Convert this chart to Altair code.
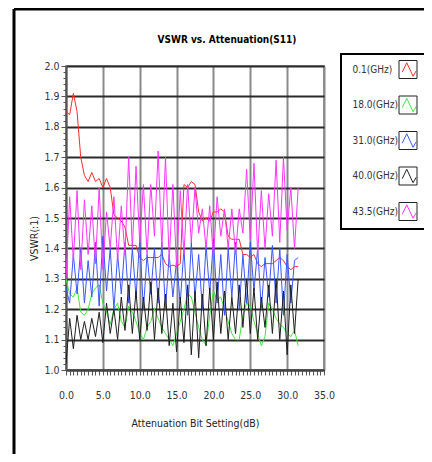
import altair as alt
import pandas as pd

atten = [0.0, 0.5, 1.0, 1.5, 2.0, 2.5, 3.0, 3.5, 4.0, 4.5, 5.0, 5.5, 6.0, 6.5, 7.0, 7.5,
         8.0, 8.5, 9.0, 9.5, 10.0, 10.5, 11.0, 11.5, 12.0, 12.5, 13.0, 13.5, 14.0, 14.5, 15.0, 15.5,
         16.0, 16.5, 17.0, 17.5, 18.0, 18.5, 19.0, 19.5, 20.0, 20.5, 21.0, 21.5, 22.0, 22.5, 23.0, 23.5,
         24.0, 24.5, 25.0, 25.5, 26.0, 26.5, 27.0, 27.5, 28.0, 28.5, 29.0, 29.5, 30.0, 30.5, 31.0, 31.5]

freqs = ["0.1(GHz)", "18.0(GHz)", "31.0(GHz)", "40.0(GHz)", "43.5(GHz)"]
colors = ["#ff2a2a", "#3ce83c", "#3a55ff", "#1e1e1e", "#ff33ff"]

f_0_1 = [1.85, 1.84, 1.91, 1.85, 1.70, 1.64, 1.62, 1.65, 1.62, 1.63, 1.60, 1.63, 1.60, 1.51, 1.50, 1.49,
         1.47, 1.41, 1.41, 1.41, 1.37, 1.36, 1.37, 1.37, 1.37, 1.37, 1.38, 1.35, 1.34, 1.345, 1.34, 1.35,
         1.61, 1.60, 1.62, 1.61, 1.52, 1.49, 1.50, 1.49, 1.52, 1.52, 1.53, 1.52, 1.44, 1.43, 1.43, 1.43,
         1.38, 1.38, 1.37, 1.38, 1.35, 1.34, 1.35, 1.35, 1.35, 1.36, 1.37, 1.36, 1.34, 1.33, 1.34, 1.34]

f_18_0 = [1.30, 1.25, 1.24, 1.27, 1.19, 1.18, 1.20, 1.25, 1.27, 1.28, 1.22, 1.19, 1.15, 1.20, 1.22, 1.16,
          1.14, 1.21, 1.19, 1.16, 1.12, 1.10, 1.14, 1.16, 1.20, 1.17, 1.14, 1.12, 1.10, 1.08, 1.12, 1.16,
          1.20, 1.25, 1.24, 1.19, 1.14, 1.10, 1.08, 1.18, 1.26, 1.23, 1.24, 1.20, 1.16, 1.12, 1.10, 1.10,
          1.18, 1.22, 1.21, 1.16, 1.12, 1.08, 1.11, 1.22, 1.20, 1.17, 1.15, 1.14, 1.12, 1.11, 1.13, 1.08]

f_31_0 = [1.27, 1.22, 1.38, 1.25, 1.40, 1.22, 1.36, 1.24, 1.42, 1.21, 1.44, 1.26, 1.40, 1.20, 1.38, 1.25,
          1.42, 1.22, 1.40, 1.24, 1.43, 1.20, 1.38, 1.25, 1.40, 1.22, 1.42, 1.20, 1.38, 1.24, 1.36, 1.22,
          1.40, 1.18, 1.42, 1.24, 1.38, 1.20, 1.41, 1.25, 1.43, 1.22, 1.38, 1.18, 1.40, 1.24, 1.42, 1.20,
          1.38, 1.22, 1.42, 1.26, 1.40, 1.20, 1.37, 1.24, 1.41, 1.22, 1.40, 1.18, 1.38, 1.22, 1.36, 1.37]

f_40_0 = [1.02, 1.17, 1.07, 1.18, 1.10, 1.16, 1.10, 1.17, 1.11, 1.19, 1.09, 1.22, 1.12, 1.20, 1.10, 1.24,
          1.13, 1.28, 1.12, 1.26, 1.10, 1.24, 1.13, 1.29, 1.10, 1.27, 1.12, 1.25, 1.08, 1.22, 1.06, 1.24,
          1.09, 1.28, 1.05, 1.26, 1.04, 1.25, 1.08, 1.27, 1.10, 1.29, 1.12, 1.26, 1.10, 1.24, 1.12, 1.28,
          1.14, 1.30, 1.12, 1.27, 1.10, 1.24, 1.14, 1.28, 1.12, 1.30, 1.10, 1.26, 1.05, 1.28, 1.12, 1.30]

f_43_5 = [1.30, 1.57, 1.36, 1.59, 1.33, 1.56, 1.38, 1.54, 1.35, 1.60, 1.33, 1.52, 1.40, 1.57, 1.36, 1.54,
          1.38, 1.70, 1.40, 1.67, 1.42, 1.61, 1.38, 1.61, 1.44, 1.72, 1.40, 1.70, 1.36, 1.61, 1.34, 1.59,
          1.38, 1.61, 1.42, 1.60, 1.45, 1.53, 1.40, 1.54, 1.37, 1.57, 1.44, 1.53, 1.40, 1.53, 1.38, 1.53,
          1.45, 1.66, 1.43, 1.68, 1.38, 1.59, 1.40, 1.58, 1.44, 1.69, 1.42, 1.70, 1.46, 1.60, 1.40, 1.60]

series = [f_0_1, f_18_0, f_31_0, f_40_0, f_43_5]

rows = []
for name, vals in zip(freqs, series):
    for a, v in zip(atten, vals):
        rows.append({"atten": a, "vswr": v, "freq": name, "box": name + " "})
df = pd.DataFrame(rows)
box_names = [f + " " for f in freqs]

FONT = "DejaVu Sans Condensed, Liberation Sans Narrow, sans-serif"
x_ticks = [i * 0.5 for i in range(71)]
y_ticks = [round(1 + i * 0.02, 2) for i in range(51)]
major_x = "datum.value % 5 == 0"
major_y = "abs(datum.value*10 - round(datum.value*10)) < 0.001"
zig = "M-0.75,0.3 L-0.25,-0.75 L0.45,0.75 L0.8,0.15 M-1,-1 M1,1"

LEG_X, LEG_Y, LEG_PAD, SYM = 275, -12, 6, 324
ROW_PAD = 12.5

x_enc = alt.X("atten:Q", scale=alt.Scale(domain=[0, 35], nice=False),
              axis=alt.Axis(values=x_ticks, labelExpr=f"{major_x} ? format(datum.value, '.1f') : ''",
                            labelOverlap=False, labelFlush=False, labelBound=False,
                            gridOpacity={"condition": {"test": major_x, "value": 1}, "value": 0},
                            gridColor="#8a8a8a", gridWidth=2, tickSize=5, tickColor="#555",
                            domainColor="#444", domainWidth=2, labelFont=FONT, labelFontSize=10.5,
                            labelColor="#333", labelPadding=15,
                            title="Attenuation Bit Setting(dB)", titleFont=FONT, titleFontSize=10.5,
                            titleFontWeight="normal", titleColor="#222", titlePadding=18))
y_enc = alt.Y("vswr:Q", scale=alt.Scale(domain=[1.0, 2.0], nice=False, zero=False),
              axis=alt.Axis(values=y_ticks, labelExpr=f"{major_y} ? format(datum.value, '.1f') : ''",
                            labelOverlap=False, labelFlush=False, labelBound=False,
                            tickSize={"condition": {"test": major_y, "value": 5}, "value": 3},
                            gridOpacity={"condition": {"test": major_y, "value": 1}, "value": 0},
                            gridColor="#2a2a2a", gridWidth=2, tickColor="#555",
                            domainColor="#555", domainWidth=2, labelFont=FONT, labelFontSize=10.5,
                            labelColor="#333", labelPadding=2,
                            title="VSWR(:1)", titleFont=FONT, titleFontSize=10.5, titleFontWeight="normal",
                            titleColor="#222", titleX=-32, titleY=172, titleBaseline="middle"))

lines = alt.Chart(df).mark_line(strokeWidth=1, clip=True).encode(
    x=x_enc, y=y_enc,
    color=alt.Color("freq:N", scale=alt.Scale(domain=freqs, range=colors),
                    legend=alt.Legend(title=None, orient="none", legendX=LEG_X, legendY=LEG_Y,
                                      symbolType=zig, symbolSize=SYM, symbolStrokeWidth=1,
                                      symbolFillColor="transparent",
                                      labelOffset={"expr": "-66"}, symbolOffset=52.5,
                                      rowPadding=ROW_PAD, padding=LEG_PAD, strokeColor="black",
                                      labelFont=FONT, labelFontSize=10, labelColor="#333")),
)

boxes = alt.Chart(df).transform_filter("false").mark_point(
    filled=False, color="black", strokeWidth=1, opacity=1).encode(
    shape=alt.Shape("box:N", scale=alt.Scale(domain=box_names, range=["square"] * 5),
                    legend=alt.Legend(title=None, orient="none", legendX=326.5, legendY=LEG_Y,
                                      symbolSize=SYM, symbolStrokeWidth=1, symbolOpacity=1,
                                      symbolStrokeColor="#222", symbolFillColor="transparent",
                                      labelExpr="''", labelFont=FONT, labelFontSize=10,
                                      rowPadding=ROW_PAD, padding=LEG_PAD)),
)

frame_df = pd.DataFrame({"k": [0]})
frame_top = alt.Chart(frame_df).mark_rule(color="black", strokeWidth=3).encode(
    x=alt.value(-52), x2=alt.value(358), y=alt.value(-57))
frame_left = alt.Chart(frame_df).mark_rule(color="black", strokeWidth=3).encode(
    x=alt.value(-52), y=alt.value(-57), y2=alt.value(388))

chart = alt.layer(lines, boxes, frame_top, frame_left).properties(
    width=258, height=304,
    title=alt.TitleParams("VSWR vs. Attenuation(S11)", font=FONT, fontSize=10, fontWeight="bold",
                          color="black", dx=32, dy=47, offset=10, anchor="middle"),
    autosize=alt.AutoSizeParams(type="none"),
    padding={"left": 58, "top": 58, "right": 100, "bottom": 84},
).configure_view(stroke="#999", strokeWidth=2).configure_legend(strokeWidth=2)

chart.save("out.html", embed_options={"renderer": "svg", "actions": False})
